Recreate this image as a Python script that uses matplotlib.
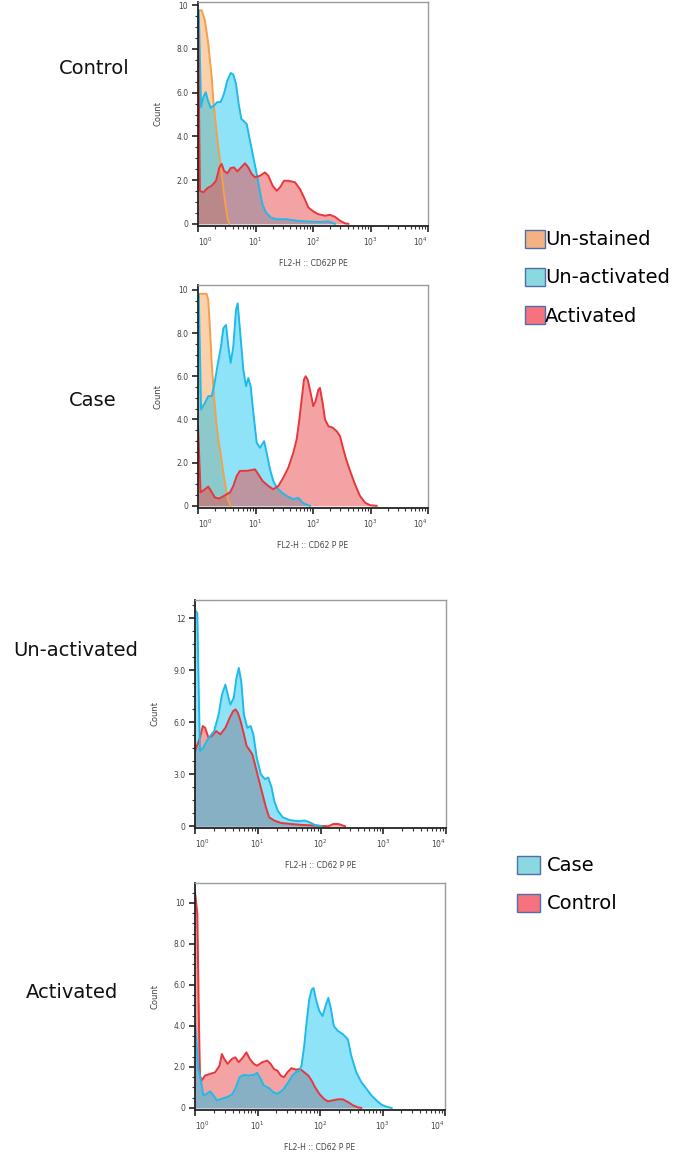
import numpy as np
import matplotlib
matplotlib.use("Agg")
import matplotlib.pyplot as plt
from matplotlib.patches import Patch
from matplotlib.ticker import AutoMinorLocator, LogLocator, NullFormatter

# ---- data (FL2-H value, count) ----
# Control: un-stained / un-activated / activated
ctrl_unst_x = [1.0, 1.16, 1.32, 1.51, 1.73, 1.85, 2.06, 2.26, 2.51, 2.83, 3.24, 3.51]
ctrl_unst_y = [97.7, 97.7, 93.1, 82.4, 67.1, 56.4, 44.2, 35.0, 25.8, 13.6, 2.9, 0]
ctrl_unact_x = [1.0, 1.03, 1.13, 1.24, 1.36, 1.49, 1.66, 1.90, 2.17, 2.48, 2.83, 3.24, 3.70,
                4.11, 4.58, 5.09, 5.67, 6.31, 7.02, 7.81, 8.69, 9.68, 10.8, 12.0, 13.3,
                15.2, 18.4, 23.4, 34.8, 52, 77.6, 132, 185, 241]
ctrl_unact_y = [97.7, 97.7, 53.4, 58, 60.2, 56.4, 53.1, 54.1, 55.7, 55.7, 59.5, 65.6, 69,
                68.3, 64.1, 54.9, 48, 46.9, 45.7, 39.6, 33.5, 27.4, 21.3, 14.4, 8.7,
                5.2, 2.9, 2.1, 2.1, 1.4, 1.1, 0.8, 1.1, 0]
ctrl_act_x = [1.0, 1.08, 1.24, 1.47, 1.73, 2.06, 2.35, 2.58, 2.83, 3.24, 3.70, 4.23, 4.83,
              5.6, 6.57, 7.5, 8.58, 9.8, 12.0, 14.6, 16.7, 19.9, 23.4, 26.7, 31.3, 37.2,
              48.6, 59.4, 69.7, 83, 101, 124, 162, 198, 241, 295, 360, 411]
ctrl_act_y = [97.7, 15.1, 14.4, 16.4, 17.4, 19.7, 25.8, 27.4, 24.3, 23.1, 25.5, 25.8, 24.0,
              25.8, 27.7, 25.8, 22.8, 21.3, 22.0, 23.5, 22.0, 17.4, 15.1, 16.7, 19.7, 19.7,
              19.0, 15.9, 12.1, 7.5, 5.7, 4.4, 3.7, 4.1, 3.2, 1.4, 0.2, 0]

# Case: un-stained / un-activated / activated
case_unst_x = [1.0, 1.41, 1.51, 1.62, 1.73, 1.90, 2.06, 2.26, 2.51, 2.76, 3.07, 3.37, 3.70]
case_unst_y = [98.2, 98.2, 95.4, 81.5, 66.2, 50.8, 40, 30.8, 23.1, 15.4, 7.7, 2.3, 0]
case_unact_x = [1.0, 1.03, 1.13, 1.32, 1.51, 1.73, 1.90, 2.17, 2.51, 2.76, 3.07, 3.37, 3.70,
                4.11, 4.58, 4.9, 5.37, 6.14, 6.84, 7.5, 8.24, 9.17, 10.5, 12.0, 14.1, 15.6,
                17.9, 20.4, 23.4, 28.5, 34.8, 45.5, 55.6, 67.9, 88.7]
case_unact_y = [98.2, 98.2, 44.6, 47.7, 50.8, 50.8, 55.4, 64.6, 73.8, 82.3, 83.8, 73.8, 66.2,
                73.8, 90.8, 93.8, 81.5, 63.1, 55.4, 59.2, 55.4, 43.1, 29.2, 26.9, 30.0, 24.6,
                16.9, 11.5, 8.5, 6.2, 4.6, 3.1, 3.7, 1.2, 0]
case_act_x = [1.0, 1.11, 1.32, 1.51, 1.68, 1.98, 2.35, 2.95, 3.6, 4.11, 4.7, 5.37, 7.02,
              8.58, 9.8, 11.2, 13.3, 16.7, 20.4, 25, 30.5, 37.2, 45.5, 52, 57.9, 63.5,
              69.7, 74.5, 80.8, 91, 101, 111, 124, 132, 147, 162, 185, 220, 258, 295,
              337, 385, 452, 537, 656, 802, 980, 1280]
case_act_y = [36.9, 6.2, 7.7, 8.9, 6.9, 3.8, 3.4, 4.9, 6.2, 9.2, 13.8, 16.2, 16.2,
              16.6, 16.9, 14.6, 11.5, 9.2, 7.7, 9.2, 13.1, 17.7, 24.6, 30.8, 40, 49.2,
              58.5, 60, 58.5, 52.3, 46.2, 48.5, 53.8, 54.6, 47.7, 40, 36.9, 36.2, 34.6, 32.3,
              26.2, 20.8, 15.4, 10, 4.6, 1.5, 0.3, 0]

# Un-activated: case / control
unact_case_x = [1.0, 1.09, 1.15, 1.2, 1.36, 1.54, 1.75, 2.02, 2.38, 2.69, 3.05, 3.32, 3.67,
                4.15, 4.58, 5.0, 5.45, 6.02, 6.81, 7.71, 8.51, 9.63, 11.2, 13, 14.7, 16.6,
                18.3, 20.8, 25, 32, 43.6, 55.9, 67.3, 81, 104]
unact_case_y = [124.8, 122.9, 76, 43.4, 45.4, 49.2, 52.1, 54.9, 64.5, 76, 81.7, 76, 70.2,
                74.1, 85.6, 91.3, 83.6, 64.5, 56.8, 57.8, 53, 39.6, 30, 27.2, 28.1, 22.4,
                14.7, 9, 5.2, 3.6, 2.9, 3.3, 2.3, 0.8, 0]
unact_ctrl_x = [1.0, 1.2, 1.33, 1.45, 1.64, 1.86, 2.18, 2.53, 3.05, 3.58, 4.05, 4.42, 4.82,
                5.32, 6.02, 6.65, 7.25, 8.2, 9.29, 10.5, 11.9, 13.5, 15.2, 18.3, 23.5, 34,
                49.4, 81, 133, 160, 193, 247]
unact_ctrl_y = [43.4, 51.1, 57.8, 56.8, 51.1, 52.1, 54.9, 53, 56.8, 62.6, 66.4, 67.4, 65.5,
                60.7, 53, 46.3, 44.4, 41.5, 33.9, 26.2, 18.6, 10.9, 5.2, 3.3, 1.9, 1.3,
                0.8, 0.4, 0, 1.3, 1.3, 0]

# Activated: case / control
act_case_x = [1.0, 1.13, 1.23, 1.36, 1.54, 1.75, 1.98, 2.24, 2.69, 3.24, 3.9, 4.42, 5.19,
              6.02, 7.25, 8.73, 9.88, 11.2, 12.6, 15.2, 17.9, 20.8, 25, 30.1, 36.2, 41,
              46.4, 50.6, 55.9, 61.7, 67.3, 73.4, 79, 86.1, 97.5, 110, 125, 136, 150, 166,
              193, 232, 279, 316, 381, 458, 552, 665, 800, 964, 1160, 1400]
act_case_y = [41.6, 19, 14.2, 6.1, 6.9, 8.1, 6.1, 3.7, 4.5, 5.3, 6.5, 9.4, 15,
              16.1, 15.8, 16.1, 17.1, 14.2, 11, 9.7, 7.7, 6.9, 8.5, 11.8, 15.8, 17.4,
              18.2, 20.6, 30.3, 43.2, 52.9, 57.7, 58.5, 52.9, 47.3, 44.8, 50.5, 53.7, 48.1, 40,
              37.6, 36, 33.5, 25.5, 17.4, 12.6, 9.4, 6.1, 3.7, 1.6, 0.6, 0]
act_ctrl_x = [1.0, 1.09, 1.15, 1.2, 1.28, 1.45, 1.75, 2.1, 2.47, 2.69, 2.94, 3.32, 3.9,
              4.42, 5.0, 5.87, 6.65, 7.52, 8.73, 9.88, 11.9, 14.3, 16.2, 18.3, 20.8, 23.5,
              26.6, 30.1, 34.9, 41, 48.2, 55.9, 64.9, 73.4, 83, 97.5, 115, 133, 160, 193,
              232, 279, 337, 405, 458]
act_ctrl_y = [105.3, 94.8, 46.5, 15.8, 13.4, 15.8, 16.6, 17.4, 20.6, 26.3, 23.9, 21.5, 23.9,
              24.7, 22.3, 24.7, 27.1, 23.9, 21.5, 20.6, 22.3, 23.1, 21.5, 19, 18.2, 15.8,
              15, 17.4, 19.4, 18.7, 19, 17.4, 15.8, 13.4, 10.2, 6.9, 4.5, 3.2, 3.7, 4.2,
              4.2, 2.9, 1.3, 0.3, 0]

row_titles = ["Control", "Case", "Un-activated", "Activated"]
xlabels = ["FL2-H :: CD62P PE", "FL2-H :: CD62 P PE",
           "FL2-H :: CD62 P PE", "FL2-H :: CD62 P PE"]
yticks_100 = [0, 20, 40, 60, 80, 100]
yticklabels_100 = ["0", "2.0", "4.0", "6.0", "8.0", "10"]
yticks_120 = [0, 30, 60, 90, 120]
yticklabels_120 = ["0", "3.0", "6.0", "9.0", "12"]

# colours
ORANGE_LINE, ORANGE_FILL = "#F5A04A", "#F7A35C"
BLUE_LINE, BLUE_FILL = "#1EBBEA", "#07C1F0"
RED_LINE, RED_FILL = "#E8363C", "#E94949"

W, H = 685, 1155
fig = plt.figure(figsize=(W / 100, H / 100), dpi=100)


def px_axes(left, top, right, bottom):
    """axes from pixel box"""
    return fig.add_axes([left / W, 1 - bottom / H, (right - left) / W, (bottom - top) / H])


def hist(ax, x, y, line, fill, alpha):
    ax.fill_between(x, y, 0, color=fill, alpha=alpha, lw=0)
    ax.plot(x, y, color=line, lw=1.4)


def style(ax, xlabel, yticks, yticklabels, ymax):
    ax.set_xscale("log")
    ax.set_xlim(1, 1e4)
    ax.set_ylim(-1, ymax)
    ax.set_xticks([1, 10, 100, 1000, 10000])
    ax.set_xticklabels(["$10^0$", "$10^1$", "$10^2$", "$10^3$", "$10^4$"])
    labs = ax.get_xticklabels()
    labs[0].set_horizontalalignment("left")
    labs[-1].set_horizontalalignment("right")
    ax.xaxis.set_minor_locator(LogLocator(base=10, subs=np.arange(2, 10)))
    ax.xaxis.set_minor_formatter(NullFormatter())
    ax.set_yticks(yticks)
    ax.set_yticklabels(yticklabels)
    ax.yaxis.set_minor_locator(AutoMinorLocator(4))
    ax.tick_params(which="major", length=4, width=1.2, color="#222222",
                   labelsize=5.5, labelcolor="#444444", pad=3)
    ax.tick_params(which="minor", length=2, width=0.8, color="#333333")
    for s in ["left", "bottom"]:
        ax.spines[s].set_color("#222222")
        ax.spines[s].set_linewidth(1.3)
    for s in ["top", "right"]:
        ax.spines[s].set_color("#9a9a9a")
        ax.spines[s].set_linewidth(1.0)
    ax.set_xlabel(xlabel, fontsize=5.5, color="#444444", labelpad=8)
    ax.set_ylabel("Count", fontsize=6, color="#444444", labelpad=10)


# Control
ax1 = px_axes(198, 2, 428, 226)
hist(ax1, ctrl_unst_x, ctrl_unst_y, ORANGE_LINE, ORANGE_FILL, 0.5)
hist(ax1, ctrl_unact_x, ctrl_unact_y, BLUE_LINE, BLUE_FILL, 0.45)
hist(ax1, ctrl_act_x, ctrl_act_y, RED_LINE, RED_FILL, 0.5)
style(ax1, xlabels[0], yticks_100, yticklabels_100, 101.5)

# Case
ax2 = px_axes(198, 285, 428, 508)
hist(ax2, case_unst_x, case_unst_y, ORANGE_LINE, ORANGE_FILL, 0.5)
hist(ax2, case_unact_x, case_unact_y, BLUE_LINE, BLUE_FILL, 0.45)
hist(ax2, case_act_x, case_act_y, RED_LINE, RED_FILL, 0.5)
style(ax2, xlabels[1], yticks_100, yticklabels_100, 102.3)

# Un-activated
ax3 = px_axes(195, 600, 446, 828)
hist(ax3, unact_ctrl_x, unact_ctrl_y, RED_LINE, RED_FILL, 0.5)
hist(ax3, unact_case_x, unact_case_y, BLUE_LINE, BLUE_FILL, 0.45)
style(ax3, xlabels[2], yticks_120, yticklabels_120, 130.5)

# Activated
ax4 = px_axes(195, 883, 445, 1110)
hist(ax4, act_ctrl_x, act_ctrl_y, RED_LINE, RED_FILL, 0.5)
hist(ax4, act_case_x, act_case_y, BLUE_LINE, BLUE_FILL, 0.45)
style(ax4, xlabels[3], yticks_100, yticklabels_100, 109.7)

# row titles
title_pos = [(94, 68), (93, 400), (76, 650), (72, 992)]
for t, (x, y) in zip(row_titles, title_pos):
    fig.text(x / W, 1 - y / H, t, fontsize=14, ha="center", va="center", color="#111111")

# legends
LEG_ORANGE, LEG_BLUE, LEG_RED = "#F4B183", "#8AD9E1", "#F7727F"
EDGE = "#4F6FA8"
h1 = [Patch(facecolor=LEG_ORANGE, edgecolor=EDGE, label="Un-stained"),
      Patch(facecolor=LEG_BLUE, edgecolor=EDGE, label="Un-activated"),
      Patch(facecolor=LEG_RED, edgecolor=EDGE, label="Activated")]
fig.legend(handles=h1, loc="upper left", bbox_to_anchor=(511 / W, 1 - 216 / H),
           frameon=False, fontsize=14, handlelength=1.05, handleheight=1.05,
           handletextpad=0.0, labelspacing=0.95, borderpad=0.2)
h2 = [Patch(facecolor=LEG_BLUE, edgecolor=EDGE, label="Case"),
      Patch(facecolor=LEG_RED, edgecolor=EDGE, label="Control")]
fig.legend(handles=h2, loc="upper left", bbox_to_anchor=(503 / W, 1 - 842 / H),
           frameon=False, fontsize=14, handlelength=1.2, handleheight=1.05,
           handletextpad=0.35, labelspacing=0.95, borderpad=0.2)

fig.savefig("out.png", dpi=100)
